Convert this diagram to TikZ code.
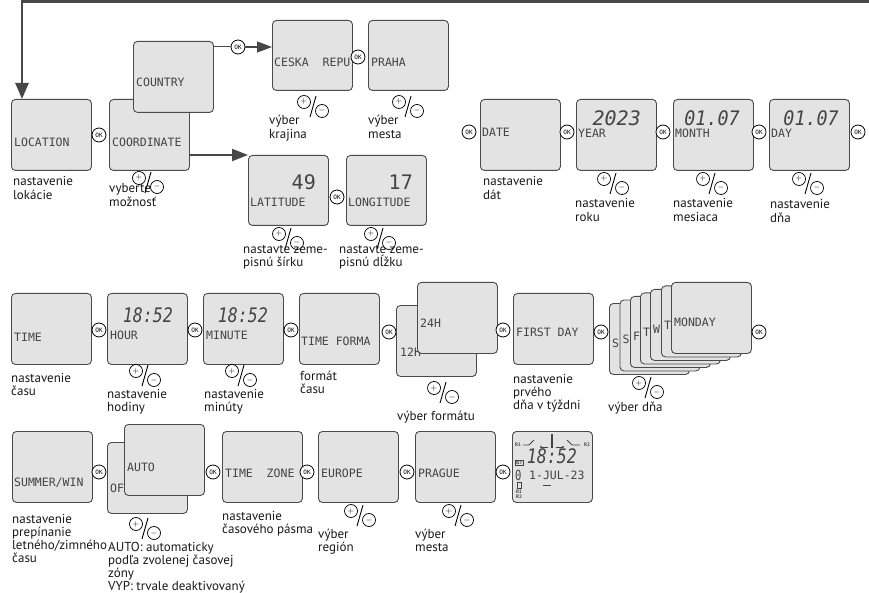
\documentclass[tikz,border=0pt]{standalone}
\usepackage{fontspec}
\usepackage{graphicx}
\setmainfont{PT Sans}
\newfontfamily\lcdfont{DejaVu Sans Mono}
\usetikzlibrary{arrows.meta}
\definecolor{lcdFill}{HTML}{E3E3E3}
\definecolor{lcdLine}{HTML}{4A4A4A}
\definecolor{lcdInk}{HTML}{444444}
\definecolor{flowLine}{HTML}{474747}
\newcommand{\lcdBig}[2][0.83]{\scalebox{#1}[1]{\itshape #2}}
\newcommand{\lcdTiny}[1]{\fontsize{5}{5}\selectfont\bfseries #1}

\tikzset{
  lcdbox/.style={draw=lcdLine, fill=lcdFill, line width=0.9pt, rounded corners=4pt,
    minimum width=80pt, minimum height=71pt, inner sep=0pt, anchor=north west},
  lcdtxt/.style={anchor=base west, inner sep=0pt, text=lcdInk, font=\lcdfont\fontsize{11.5}{12}\selectfont},
  lcdnum/.style={anchor=base east, inner sep=0pt, text=lcdInk, font=\lcdfont\fontsize{20}{20}\selectfont},
  okbtn/.style={circle, draw=black, fill=white, line width=0.8pt, minimum size=14pt, inner sep=0pt,
    font=\lcdfont\fontsize{6}{6}\selectfont},
  note/.style={anchor=base west, inner sep=0pt, align=left, text=black!90, font=\fontsize{13}{13.3}\selectfont},
  pmdot/.style={circle, draw=black, fill=white, line width=0.7pt, minimum size=13pt, inner sep=0pt,
    font=\fontsize{8}{8}\selectfont},
  pmsel/.pic={
    \node[pmdot] (-p) at (-9,-4) {$+$};
    \node[pmdot] (-m) at (9,5) {$-$};
    \draw[line width=0.9pt] (3,-10) -- (-3,11);
  },
  flow/.style={draw=flowLine, line width=1.6pt, -{Triangle[length=15pt,width=11pt]}},
}

\begin{document}
\begin{tikzpicture}[x=1pt,y=-1pt]
\useasboundingbox (0,0) rectangle (869,593);

% location
\node[lcdbox] (loc) at (11,99) {};
\node[lcdtxt] (loc-t) at (14,147) {LOCATION};
\node[okbtn] (okA) at (99,135) {OK};
\node[lcdbox] (coord) at (109,99) {};
\node[lcdtxt] (coord-t) at (112,147) {COORDINATE};
\node[lcdbox] (country) at (133,41) {};
\node[lcdtxt] (country-t) at (136,87) {COUNTRY};
\node[okbtn] (okB) at (238,47) {OK};
\node[lcdbox, minimum height=70pt] (ceska) at (272,20) {};
\node[lcdtxt] (ceska-t) at (274,67) {CESKA\ \ REPU};
\node[okbtn] (okC) at (358,57) {OK};
\node[lcdbox, minimum height=70pt] (praha) at (368,20) {};
\node[lcdtxt] (praha-t) at (371,67) {PRAHA};
\node[lcdbox, minimum height=70pt] (lat) at (248,155) {};
\node[lcdnum] (lat-n) at (316,190) {49};
\node[lcdtxt] (lat-t) at (250,207) {LATITUDE};
\node[okbtn] (okD) at (337,197) {OK};
\node[lcdbox, minimum height=70pt] (lon) at (346,155) {};
\node[lcdnum] (lon-n) at (413,190) {17};
\node[lcdtxt] (lon-t) at (348,207) {LONGITUDE};

\draw[flowLine, line width=1pt] (country.east |- okB) -- (okB);
\draw[flow, line width=1.2pt] (okB) -- (ceska.west |- okB);
\draw[flow, line width=2pt, -{Triangle[length=16pt,width=12pt]}] (coord.east |- lat.north) -- (lat.north west);
\coordinate (loopEnd) at (869,1.3);
\coordinate (loopTurn) at (22,1.3);
\draw[flow, line width=2.6pt, -{Triangle[length=16pt,width=13pt]}] (loopEnd) -- (loopTurn) -- (loopTurn |- loc.north);

\pic (pmCoord) at (148,182) {pmsel};
\pic (pmCeska) at (313,106) {pmsel};
\pic (pmPraha) at (408,106) {pmsel};
\pic (pmLat) at (288,238) {pmsel};
\pic (pmLon) at (380,238) {pmsel};

\node[note] (locNote) at (13,199.3) {nastavenie\\lokácie};
\node[note] (coordNote) at (109,206.3) {vyberte\\možnosť};
\node[note] (ceskaNote) at (269,138.3) {výber\\krajina};
\node[note] (prahaNote) at (368,138.3) {výber\\mesta};
\node[note] (latNote) at (243,266.3) {nastavte zeme-\\pisnú šírku};
\node[note] (lonNote) at (339,266.3) {nastavte zeme-\\pisnú dĺžku};

% date
\node[okbtn] (okE) at (469,132) {OK};
\node[lcdbox] (date) at (480,99) {};
\node[lcdtxt] (date-t) at (482,137) {DATE};
\node[okbtn] (okF) at (567,132) {OK};
\node[lcdbox] (year) at (576,99) {};
\node[lcdnum] (year-n) at (641,126) {\lcdBig[1]{2023}};
\node[lcdtxt] (year-t) at (578,138) {YEAR};
\node[okbtn] (okG) at (663,132) {OK};
\node[lcdbox] (month) at (673,99) {};
\node[lcdnum] (month-n) at (740,126) {\lcdBig[0.92]{01.07}};
\node[lcdtxt] (month-t) at (675,138) {MONTH};
\node[okbtn] (okH) at (759,132) {OK};
\node[lcdbox] (day) at (769,99) {};
\node[lcdnum] (day-n) at (839,126) {\lcdBig[0.92]{01.07}};
\node[lcdtxt] (day-t) at (771,138) {DAY};
\node[okbtn] (okI) at (858,132) {OK};
\pic (pmYear) at (613,183) {pmsel};
\pic (pmMonth) at (712,183) {pmsel};
\pic (pmDay) at (808,183) {pmsel};
\node[note] (dateNote) at (483,199.3) {nastavenie\\dát};
\node[note] (yearNote) at (575,221.3) {nastavenie\\roku};
\node[note] (monthNote) at (673,221.3) {nastavenie\\mesiaca};
\node[note] (dayNote) at (770,222.3) {nastavenie\\dňa};

% time
\node[lcdbox] (time) at (11,293) {};
\node[lcdtxt] (time-t) at (14,341) {TIME};
\node[okbtn] (okJ) at (99,330) {OK};
\node[lcdbox] (hour) at (107,293) {};
\node[lcdnum] (hour-n) at (173,322) {\lcdBig{18:52}};
\node[lcdtxt] (hour-t) at (110,339) {HOUR};
\node[okbtn] (okK) at (195,330) {OK};
\node[lcdbox] (minute) at (203,293) {};
\node[lcdnum] (minute-n) at (268,322) {\lcdBig{18:52}};
\node[lcdtxt] (minute-t) at (206,339) {MINUTE};
\node[okbtn] (okL) at (291,330) {OK};
\node[lcdbox] (tfmt) at (299,293) {};
\node[lcdtxt] (tfmt-t) at (301,345) {TIME FORMA};
\node[okbtn] (okM) at (389,332) {OK};
\node[lcdbox] (h12) at (396,305) {};
\node[lcdtxt] (h12-t) at (400,356) {12H};
\node[lcdbox] (h24) at (417,282) {};
\node[lcdtxt] (h24-t) at (420,327) {24H};
\node[okbtn] (okN) at (503,330) {OK};
\node[lcdbox] (first) at (513,293) {};
\node[lcdtxt] (first-t) at (516,336) {FIRST DAY};
\node[okbtn] (okO) at (601,332) {OK};
\node[lcdbox] (sun) at (609,303) {};
\node[lcdtxt] (sun-t) at (612,347) {S};
\node[lcdbox] (sat) at (619.5,299.5) {};
\node[lcdtxt] (sat-t) at (622.5,343.5) {S};
\node[lcdbox] (fri) at (630,296) {};
\node[lcdtxt] (fri-t) at (633,340) {F};
\node[lcdbox] (thu) at (640,292.5) {};
\node[lcdtxt] (thu-t) at (643,336.5) {T};
\node[lcdbox] (wed) at (650,289) {};
\node[lcdtxt] (wed-t) at (653,333) {W};
\node[lcdbox] (tue) at (661,285.5) {};
\node[lcdtxt] (tue-t) at (664,329.5) {T};
\node[lcdbox] (mon) at (671,282) {};
\node[lcdtxt] (mon-t) at (674,326) {MONDAY};
\node[okbtn] (okP) at (759,332) {OK};
\pic (pmHour) at (145,375) {pmsel};
\pic (pmMinute) at (241,375) {pmsel};
\pic (pmFmt) at (443,392) {pmsel};
\pic (pmDays) at (648,387) {pmsel};
\node[note] (timeNote) at (11,395.3) {nastavenie\\času};
\node[note] (hourNote) at (107,411.3) {nastavenie\\hodiny};
\node[note] (minuteNote) at (204,411.3) {nastavenie\\minúty};
\node[note] (tfmtNote) at (300,393.3) {formát\\času};
\node[note] (fmtSelNote) at (397,420) {výber formátu};
\node[note] (firstNote) at (513,409.6) {nastavenie\\prvého\\dňa v týždni};
\node[note] (daysNote) at (608,411) {výber dňa};

% summer / winter, zone
\node[lcdbox] (summer) at (12,431) {};
\node[lcdtxt] (summer-t) at (14,486) {SUMMER/WIN};
\node[okbtn] (okQ) at (99,472) {OK};
\node[lcdbox] (off) at (107,442) {};
\node[lcdtxt] (off-t) at (110,492) {OFF};
\node[lcdbox] (auto) at (124,424) {};
\node[lcdtxt] (auto-t) at (127,471) {AUTO};
\node[okbtn] (okR) at (213,472) {OK};
\node[lcdbox] (tzone) at (222,431) {};
\node[lcdtxt] (tzone-t) at (225,477) {TIME\ \ ZONE};
\node[okbtn] (okS) at (307,472) {OK};
\node[lcdbox] (europe) at (318,431) {};
\node[lcdtxt] (europe-t) at (321,477) {EUROPE};
\node[okbtn] (okT) at (407,472) {OK};
\node[lcdbox] (prague) at (415,431) {};
\node[lcdtxt] (prague-t) at (418,477) {PRAGUE};
\node[okbtn] (okU) at (503,472) {OK};
\node[lcdbox] (clock) at (512,431) {};
\node[inner sep=0pt, text=lcdInk] (clk-r1) at (518,445) {\lcdTiny{R1}};
\node[inner sep=0pt, text=lcdInk] (clk-r2) at (587,445) {\lcdTiny{R2}};
\draw[lcdInk, line width=0.8pt] (523,445) -- (529,445) -- (534,440);
\draw[lcdInk, line width=0.8pt] (541,447) -- (548,447);
\fill[lcdInk] (541,447) circle (1.2);
\draw[lcdInk, line width=1.8pt] (552,434) -- (552,448);
\draw[lcdInk, line width=0.8pt] (556,447) -- (563,447);
\fill[lcdInk] (563,447) circle (1.2);
\draw[lcdInk, line width=0.8pt] (567,440) -- (572,445) -- (580,445);
\node[lcdnum] (clk-n) at (577,463) {\lcdBig{18:52}};
\node[draw=lcdInk, line width=0.4pt, inner sep=0.5pt, text=lcdInk] (clk-ist) at (519,463) {\lcdTiny{IST}};
\node[lcdtxt, font=\lcdfont\fontsize{14}{14}\selectfont] (clk-d0) at (515,480) {\scalebox{0.75}[1]{0}};
\node[lcdtxt] (clk-d) at (529,479) {1-JUL-23};
\draw[lcdInk, line width=0.6pt] (517,482) rectangle (521,488);
\node[inner sep=0pt, text=lcdInk] (clk-r1b) at (519,492) {\lcdTiny{R1}};
\node[inner sep=0pt, text=lcdInk] (clk-r2b) at (519,497) {\lcdTiny{R2}};
\draw[lcdInk, line width=0.8pt] (543,485) -- (551,485);
\pic (pmOff) at (145,528) {pmsel};
\pic (pmEurope) at (360,515) {pmsel};
\pic (pmPrague) at (458,515) {pmsel};
\node[note] (summerNote) at (12,562.9) {nastavenie\\prepínanie\\letného/zimného\\času};
\node[note] (autoNote) at (108,590.9) {AUTO: automaticky\\podľa zvolenej časovej\\zóny\\VYP: trvale deaktivovaný};
\node[note] (tzoneNote) at (222,533.3) {nastavenie\\časového pásma};
\node[note] (europeNote) at (318,551.3) {výber\\región};
\node[note] (pragueNote) at (415,551.3) {výber\\mesta};

\fill[black] (775,593) arc (180:0:6) -- cycle;
\end{tikzpicture}
\end{document}
